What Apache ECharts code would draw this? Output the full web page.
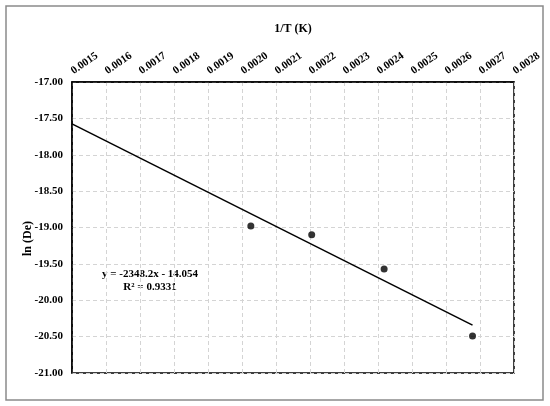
<!DOCTYPE html>
<html>
<head>
<meta charset="utf-8">
<script src="https://cdn.jsdelivr.net/npm/echarts@6/dist/echarts.min.js"></script>
<style>
  html, body { margin: 0; padding: 0; background: #fff; }
  #chart { width: 550px; height: 406px; }
</style>
</head>
<body>
<div id="chart"></div>
<script>
// measured points, 1/T vs ln(De)
const invT = [0.002026, 0.002205, 0.002418, 0.002678]
const lnDe = [-18.98, -19.10, -19.57, -20.49]

// linear trendline ends (as drawn)
const trendX = [0.0015, 0.002678]
const trendY = [-17.576, -20.343]

const xMin = 0.0015, xMax = 0.0028, xStep = 0.0001
const yMin = -21, yMax = -17, yStep = 0.5

const fitText = ['y = -2348.2x - 14.054', 'R² = 0.9331']

const font = 'Liberation Serif, Times New Roman, serif'

const chart = echarts.init(document.getElementById('chart'))

chart.setOption({
  backgroundColor: '#fff',
  animation: false,
  grid: {
    left: 72, right: 36, top: 82, bottom: 33,
    show: true, borderColor: '#000', borderWidth: 1.5,
    backgroundColor: 'transparent'
  },
  xAxis: {
    type: 'value',
    position: 'top',
    min: xMin, max: xMax, interval: xStep,
    name: '1/T (K)',
    nameLocation: 'middle',
    nameGap: 47,
    nameTextStyle: { fontFamily: font, fontWeight: 'bold', fontSize: 12, color: '#000' },
    axisLine: { show: true, lineStyle: { color: '#000', width: 1.5 } },
    axisTick: { show: false },
    axisLabel: {
      rotate: -35, margin: 10,
      fontFamily: font, fontWeight: 'bold', fontSize: 11, color: '#000',
      formatter: v => v.toFixed(4)
    },
    splitLine: { show: true, lineStyle: { color: '#d4d4d4', type: [4, 3] } }
  },
  yAxis: {
    type: 'value',
    min: yMin, max: yMax, interval: yStep,
    name: 'ln (De)',
    nameLocation: 'middle',
    nameGap: 38,
    nameMoveOverlap: false,
    nameTextStyle: {
      fontFamily: font, fontWeight: 'bold', fontSize: 12, color: '#000',
      padding: [0, 22, 0, 0]
    },
    axisLine: { show: true, lineStyle: { color: '#000', width: 1.5 } },
    axisTick: { show: false },
    axisLabel: {
      margin: 9,
      fontFamily: font, fontWeight: 'bold', fontSize: 11, color: '#000',
      formatter: v => v.toFixed(2)
    },
    splitLine: { show: true, lineStyle: { color: '#d4d4d4', type: [4, 3] } }
  },
  graphic: [
    {
      type: 'rect',
      shape: { x: 6, y: 6, width: 537, height: 394 },
      style: { fill: 'none', stroke: '#8a8a8a', lineWidth: 1.5 },
      silent: true
    },
    {
      type: 'text',
      x: 150, y: 268,
      style: {
        text: fitText.join('\n'),
        font: 'bold 11px ' + font,
        fill: '#000',
        align: 'center',
        lineHeight: 13
      }
    }
  ],
  series: [
    {
      name: 'trend',
      type: 'line',
      data: trendX.map((x, i) => [x, trendY[i]]),
      symbol: 'none',
      lineStyle: { color: '#000', width: 1.5 },
      z: 3
    },
    {
      name: 'ln(De)',
      type: 'scatter',
      data: invT.map((x, i) => [x, lnDe[i]]),
      symbol: 'circle',
      symbolSize: 7,
      itemStyle: { color: '#000' },
      z: 4
    }
  ]
})
</script>
</body>
</html>
